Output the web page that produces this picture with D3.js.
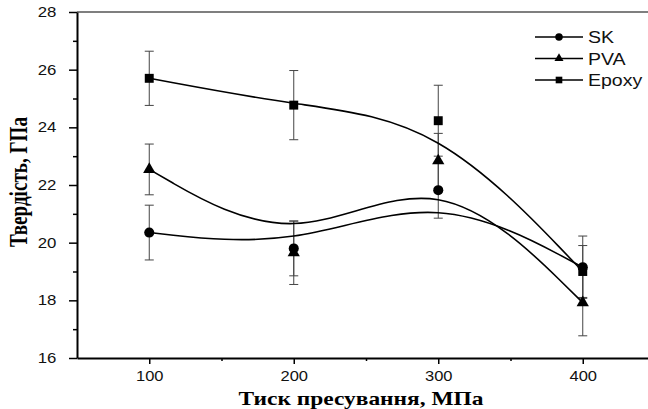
<!DOCTYPE html>
<html>
<head>
<meta charset="utf-8">
<script src="https://cdn.jsdelivr.net/npm/d3@7"></script>
<style>
  body { margin: 0; background: #fff; }
  svg { display: block; overflow: hidden; }
</style>
</head>
<body>
<svg id="viz"></svg>
<script>
// pressure (MPa) and hardness (GPa)
const pressure = [100, 200, 300, 400];
const skVals = [20.35, 19.8, 21.82, 19.15];
const skErr = [0.95, 0.95, 0.97, 1.08];
const pvaVals = [22.54, 19.65, 22.84, 17.92];
const pvaErr = [0.88, 1.1, 0.95, 1.15];
const epoxyVals = [25.7, 24.77, 24.23, 19.0];
const epoxyErr = [0.94, 1.2, 1.23, 0.9];

const seriesNames = ["SK", "PVA", "Epoxy"];
const xMajor = [100, 200, 300, 400];
const xMinor = [150, 250, 350];
const yMajor = [16, 18, 20, 22, 24, 26, 28];
const yMinor = [17, 19, 21, 23, 25, 27];

const width = 648, height = 409;
const margin = { top: 12, right: -7, bottom: 51, left: 77 };

const svg = d3.select("#viz")
    .attr("width", width)
    .attr("height", height)
    .attr("viewBox", [0, 0, width, height]);

const x = d3.scaleLinear()
    .domain([50, 450])
    .range([margin.left, width - margin.right]);

const y = d3.scaleLinear()
    .domain([16, 28])
    .range([height - margin.bottom, margin.top]);

const series = [
    { name: "SK", vals: skVals, err: skErr, sym: d3.symbolCircle, size: 80 },
    { name: "PVA", vals: pvaVals, err: pvaErr, sym: d3.symbolTriangle, size: 65 },
    { name: "Epoxy", vals: epoxyVals, err: epoxyErr, sym: d3.symbolSquare, size: 80 }
];

// top frame line
svg.append("line")
    .attr("x1", x(50)).attr("x2", width)
    .attr("y1", y(28)).attr("y2", y(28))
    .attr("stroke", "#555").attr("stroke-width", 1.3);

// error bars
const eb = svg.append("g").attr("stroke", "#444").attr("stroke-width", 1);
series.forEach(s => {
    pressure.forEach((p, i) => {
        const cx = x(p);
        const y0 = y(s.vals[i] - s.err[i]), y1 = y(s.vals[i] + s.err[i]);
        eb.append("line").attr("x1", cx).attr("x2", cx).attr("y1", y0).attr("y2", y1);
        eb.append("line").attr("x1", cx - 4.5).attr("x2", cx + 4.5).attr("y1", y0).attr("y2", y0);
        eb.append("line").attr("x1", cx - 4.5).attr("x2", cx + 4.5).attr("y1", y1).attr("y2", y1);
    });
});

// smoothed curves (B-spline through the data as control points)
const line = d3.line()
    .x(d => x(d[0]))
    .y(d => y(d[1]))
    .curve(d3.curveBasis);

series.forEach(s => {
    svg.append("path")
        .datum(pressure.map((p, i) => [p, s.vals[i]]))
        .attr("d", line)
        .attr("fill", "none")
        .attr("stroke", "#000")
        .attr("stroke-width", 1.6);
});

// markers
series.forEach(s => {
    svg.append("g").selectAll("path")
        .data(pressure.map((p, i) => [p, s.vals[i]]))
        .join("path")
        .attr("transform", d => `translate(${x(d[0])},${y(d[1])})`)
        .attr("d", d3.symbol(s.sym, s.size))
        .attr("fill", "#000");
});

// axes
const xAxis = svg.append("g")
    .attr("transform", `translate(0,${y(16)})`)
    .call(d3.axisBottom(x).tickValues(xMajor).tickSize(6).tickSizeOuter(0).tickPadding(6));
svg.append("g")
    .attr("transform", `translate(0,${y(16)})`)
    .call(d3.axisBottom(x).tickValues(xMinor).tickSize(3).tickSizeOuter(0).tickFormat(""))
    .call(g => g.select(".domain").remove());

const yAxis = svg.append("g")
    .attr("transform", `translate(${x(50)},0)`)
    .call(d3.axisLeft(y).tickValues(yMajor).tickSize(8).tickSizeOuter(0).tickPadding(5));
svg.append("g")
    .attr("transform", `translate(${x(50)},0)`)
    .call(d3.axisLeft(y).tickValues(yMinor).tickSize(4).tickSizeOuter(0).tickFormat(""))
    .call(g => g.select(".domain").remove());

svg.selectAll(".domain").attr("stroke-width", 2);
svg.selectAll(".tick line").attr("stroke-width", 1.5);

xAxis.selectAll(".tick text")
    .attr("font-family", "Liberation Sans, Arial, sans-serif")
    .attr("font-size", 15)
    .attr("fill", "#111")
    .attr("transform", "scale(1.1,1)");

yAxis.selectAll(".tick text")
    .attr("font-family", "Liberation Sans, Arial, sans-serif")
    .attr("font-size", 14)
    .attr("fill", "#111")
    .attr("transform", "translate(-5,0) scale(1.2,1)");

// axis titles
svg.append("text")
    .attr("x", 361)
    .attr("y", 405)
    .attr("text-anchor", "middle")
    .attr("font-family", "Liberation Serif, Times New Roman, serif")
    .attr("font-weight", "bold")
    .attr("font-size", 19.5)
    .attr("textLength", 245)
    .attr("lengthAdjust", "spacingAndGlyphs")
    .text("Тиск пресування, МПа");

svg.append("text")
    .attr("transform", "translate(27,182) scale(1.3,1) rotate(-90)")
    .attr("text-anchor", "middle")
    .attr("font-family", "Liberation Serif, Times New Roman, serif")
    .attr("font-weight", "bold")
    .attr("font-size", 19.5)
    .attr("textLength", 130)
    .attr("lengthAdjust", "spacingAndGlyphs")
    .text("Твердість, ГПа");

// legend
const legend = svg.append("g").attr("transform", "translate(535,37)");
series.forEach((s, i) => {
    const g = legend.append("g").attr("transform", `translate(0,${i * 21.5})`);
    g.append("line").attr("x1", 0).attr("x2", 48).attr("stroke", "#000").attr("stroke-width", 1.6);
    g.append("path")
        .attr("transform", "translate(24,0)")
        .attr("d", d3.symbol(s.sym, s.size * 0.55))
        .attr("fill", "#000");
    g.append("text")
        .attr("x", 53 / 1.15)
        .attr("y", 6)
        .attr("transform", "scale(1.15,1)")
        .attr("font-family", "Liberation Sans, Arial, sans-serif")
        .attr("font-size", 17)
        .attr("fill", "#111")
        .text(seriesNames[i]);
});
</script>
</body>
</html>
